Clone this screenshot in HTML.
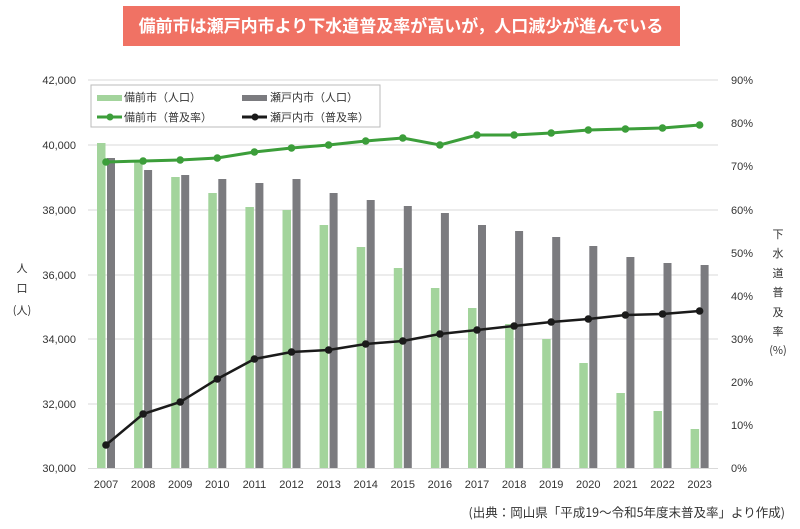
<!DOCTYPE html>
<html><head><meta charset="utf-8"><style>
body{margin:0;background:#fff;width:800px;height:524px;overflow:hidden;font-family:"Liberation Sans","Noto Sans CJK JP",sans-serif;}
</style></head><body>
<svg width="800" height="524" viewBox="0 0 800 524" xmlns="http://www.w3.org/2000/svg" font-family="Liberation Sans, Noto Sans CJK JP, sans-serif">
<rect x="123" y="6" width="557" height="40" fill="#f07264"/>
<text x="401" y="32" text-anchor="middle" font-size="17" font-weight="bold" fill="#fff" font-family="Noto Sans CJK JP, sans-serif">備前市は瀬戸内市より下水道普及率が高いが，人口減少が進んでいる</text>
<g stroke="#d9d9d9" stroke-width="1">
<line x1="88" x2="718" y1="80" y2="80"/><line x1="88" x2="718" y1="145" y2="145"/>
<line x1="88" x2="718" y1="210" y2="210"/><line x1="88" x2="718" y1="275" y2="275"/>
<line x1="88" x2="718" y1="339" y2="339"/><line x1="88" x2="718" y1="404" y2="404"/>
<line x1="88" x2="718" y1="468.5" y2="468.5"/>
</g>
<g font-size="11" fill="#333" text-anchor="end">
<text x="76" y="84">42,000</text><text x="76" y="149">40,000</text><text x="76" y="214">38,000</text>
<text x="76" y="279">36,000</text><text x="76" y="343">34,000</text><text x="76" y="408">32,000</text><text x="76" y="472">30,000</text>
</g>
<g font-size="11" fill="#333">
<text x="731" y="84">90%</text><text x="731" y="127">80%</text><text x="731" y="170">70%</text><text x="731" y="214">60%</text>
<text x="731" y="257">50%</text><text x="731" y="300">40%</text><text x="731" y="343">30%</text><text x="731" y="386">20%</text>
<text x="731" y="429">10%</text><text x="731" y="472">0%</text>
</g>
<g font-size="11" fill="#333" text-anchor="middle" font-family="Noto Sans CJK JP, sans-serif">
<text x="22" y="272">人</text><text x="22" y="292">口</text><text x="22" y="314">(人)</text>
<text x="778" y="238">下</text><text x="778" y="257">水</text><text x="778" y="277">道</text>
<text x="778" y="296">普</text><text x="778" y="316">及</text><text x="778" y="335">率</text><text x="778" y="354">(%)</text>
</g>
<g id="bars"></g>
<g id="lines"></g>
<g id="xl" font-size="11" fill="#333" text-anchor="middle"></g>
<rect x="91" y="85" width="289" height="42" fill="#fff" stroke="#bbb"/>
<rect x="97" y="95" width="25" height="6" fill="#a3d49c"/>
<text x="124" y="101" font-size="11" fill="#333">備前市（人口）</text>
<rect x="242" y="95" width="25" height="6" fill="#7b7b7f"/>
<text x="270" y="101" font-size="11" fill="#333">瀬戸内市（人口）</text>
<line x1="97" x2="122" y1="117" y2="117" stroke="#3c9e3a" stroke-width="3"/><circle cx="110" cy="117" r="3.5" fill="#3c9e3a"/>
<text x="124" y="121" font-size="11" fill="#333">備前市（普及率）</text>
<line x1="242" x2="267" y1="117" y2="117" stroke="#1a1a1a" stroke-width="3"/><circle cx="255" cy="117" r="3.5" fill="#1a1a1a"/>
<text x="270" y="121" font-size="11" fill="#333">瀬戸内市（普及率）</text>
<text x="785" y="517" font-size="12.5" fill="#333" text-anchor="end" font-family="Noto Sans CJK JP, sans-serif">(出典：岡山県「平成19～令和5年度末普及率」より作成)</text>
<script>
var g=[143,162,177,193,207,210,225,247,268,288,308,324,339,363,393,411,429];
var k=[158,170,175,179,183,179,193,200,206,213,225,231,237,246,257,263,265];
var gl=[162,161,160,158,152,148,145,141,138,145,135,135,133,130,129,128,125];
var bl=[445,414,402,379,359,352,350,344,341,334,330,326,322,319,315,314,311];
var ns="http://www.w3.org/2000/svg",B=document.getElementById('bars'),L=document.getElementById('lines'),X=document.getElementById('xl');
function el(t,a,p){var e=document.createElementNS(ns,t);for(var i in a)e.setAttribute(i,a[i]);p.appendChild(e);return e;}
var pg=[],pb=[];
for(var i=0;i<17;i++){var c=106+i*37.1;
el('rect',{x:c-9,y:g[i],width:8.5,height:468-g[i],fill:'#a3d49c'},B);
el('rect',{x:c+1,y:k[i],width:8,height:468-k[i],fill:'#7b7b7f'},B);
pg.push(c+','+gl[i]);pb.push(c+','+bl[i]);
var t=el('text',{x:c,y:488},X);t.textContent=2007+i;}
el('polyline',{points:pg.join(' '),fill:'none',stroke:'#3c9e3a','stroke-width':3},L);
el('polyline',{points:pb.join(' '),fill:'none',stroke:'#1a1a1a','stroke-width':2.5},L);
for(var i=0;i<17;i++){var c=106+i*37.1;
el('circle',{cx:c,cy:gl[i],r:3.8,fill:'#3c9e3a'},L);el('circle',{cx:c,cy:bl[i],r:3.8,fill:'#1a1a1a'},L);}
</script>
</svg>
</body></html>
